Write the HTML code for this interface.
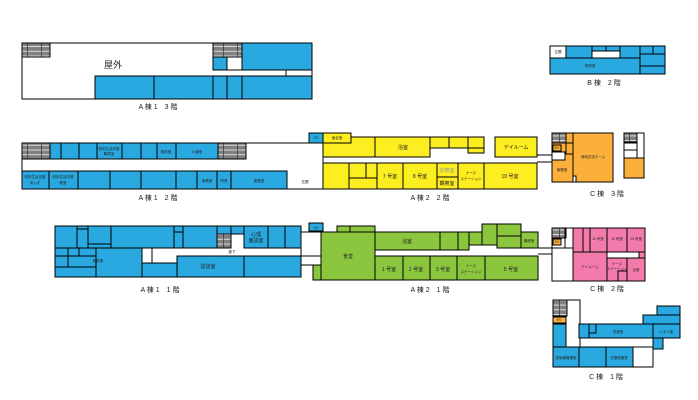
<!DOCTYPE html>
<html><head><meta charset="utf-8"><style>
html,body{margin:0;padding:0;background:#fff;}
svg{display:block}
text{font-family:"Liberation Sans","Noto Sans CJK JP",sans-serif;fill:#222;text-anchor:middle}
.b{fill:#29a9e0;stroke:#000;stroke-width:1}
.y{fill:#fcee21;stroke:#000;stroke-width:1}
.g{fill:#8cc63f;stroke:#000;stroke-width:1}
.o{fill:#fbb03b;stroke:#000;stroke-width:1}
.p{fill:#f37bac;stroke:#000;stroke-width:1}
.w{fill:#fff;stroke:#000;stroke-width:1}
.s{fill:url(#st);stroke:#000;stroke-width:1}
.l{stroke:#000;stroke-width:1;fill:none}
.t{font-size:3.5px}
.m{font-size:5px}
.h{font-size:7px}
</style></head><body>
<svg width="698" height="400" viewBox="0 0 698 400" xmlns="http://www.w3.org/2000/svg">
<defs><pattern id="st" patternUnits="userSpaceOnUse" width="14" height="4.7" x="0" y="0">
<rect width="14" height="4.7" fill="#808080"/><rect y="3.9" width="14" height="0.8" fill="#eee"/><rect x="13.3" width="0.7" height="4.7" fill="#333"/></pattern></defs>

<!-- A1 3F -->
<rect class="w" x="22" y="43" width="290" height="56"/>
<rect class="s" x="22" y="43" width="28" height="14"/>
<text class="h" x="113" y="68" style="font-size:9px">屋外</text>
<rect class="b" x="95" y="76" width="59" height="23"/>
<rect class="b" x="154" y="76" width="59" height="23"/>
<rect class="b" x="213" y="76" width="14" height="23"/>
<rect class="b" x="227" y="76" width="15" height="23"/>
<rect class="b" x="242" y="76" width="70" height="23"/>
<rect class="s" x="213" y="43" width="29" height="14"/>
<rect class="b" x="213" y="57" width="14" height="13"/>
<rect class="b" x="242" y="43" width="70" height="27"/>
<line class="l" x1="213" y1="70" x2="312" y2="70"/>
<line class="l" x1="286" y1="70" x2="286" y2="76"/>
<text class="h" x="158" y="109">A 棟 1　3 階</text>

<!-- B 2F -->
<rect class="w" x="550" y="46" width="16" height="12"/>
<text class="t" x="558" y="53">玄関</text>
<rect class="b" x="566" y="46" width="26" height="12"/>
<rect class="b" x="592" y="46" width="14" height="5"/>
<rect class="b" x="606" y="46" width="14" height="5"/>
<rect class="w" x="592" y="51" width="28" height="7"/>
<rect class="b" x="620" y="46" width="20" height="12"/>
<rect class="b" x="640" y="46" width="13" height="8"/>
<rect class="b" x="653" y="46" width="12" height="8"/>
<rect class="b" x="550" y="58" width="90" height="16"/>
<text class="t" x="590" y="67">研修室</text>
<rect class="b" x="640" y="54" width="25" height="12"/>
<rect class="b" x="640" y="66" width="25" height="8"/>
<text class="h" x="604" y="85">B 棟　2 階</text>

<!-- A1 2F -->
<rect class="w" x="22" y="143" width="301" height="46"/>
<rect class="s" x="22" y="143" width="28" height="16"/>
<rect class="b" x="50" y="143" width="11" height="16"/>
<rect class="b" x="61" y="143" width="18" height="16"/>
<rect class="b" x="79" y="143" width="18" height="16"/>
<rect class="b" x="97" y="143" width="25" height="16"/>
<text class="t" x="109" y="150">知的生活学習</text><text class="t" x="109" y="155">職員室</text>
<rect class="b" x="122" y="143" width="19" height="16"/>
<rect class="b" x="141" y="143" width="16" height="16"/>
<rect class="b" x="157" y="143" width="19" height="16"/>
<text class="t" x="166" y="153">相談室</text>
<rect class="b" x="176" y="143" width="42" height="16"/>
<text class="t" x="197" y="153">X 線室</text>
<rect class="s" x="218" y="143" width="28" height="16"/>
<rect class="b" x="22" y="171" width="27" height="18"/>
<text class="t" x="35" y="178">知的生活支援</text><text class="t" x="35" y="184">あんず</text>
<rect class="b" x="49" y="171" width="29" height="18"/>
<text class="t" x="63" y="178">知的生活学習</text><text class="t" x="63" y="184">教室</text>
<rect class="b" x="78" y="171" width="32" height="18"/>
<rect class="b" x="110" y="171" width="31" height="18"/>
<rect class="b" x="141" y="171" width="35" height="18"/>
<rect class="b" x="176" y="171" width="21" height="18"/>
<rect class="b" x="197" y="171" width="20" height="18"/>
<text class="t" x="207" y="182">事務室</text>
<rect class="b" x="217" y="171" width="14" height="18"/>
<text class="t" x="224" y="182">院長</text>
<rect class="b" x="231" y="171" width="56" height="18"/>
<text class="t" x="259" y="182">医務室</text>
<text class="t" x="305" y="183">玄関</text>
<rect class="b" x="309" y="133" width="14" height="10"/>
<text class="t" x="316" y="139">EV</text>
<text class="h" x="158" y="200">A 棟 1　2 階</text>

<!-- A2 2F -->
<rect class="y" x="323" y="133" width="28" height="10"/>
<text class="t" x="337" y="139">面会室</text>
<rect class="y" x="323" y="137" width="52" height="20"/>
<rect class="y" x="323" y="133" width="28" height="10"/>
<text class="t" x="337" y="139">面会室</text>
<rect class="y" x="375" y="137" width="55" height="20"/>
<text class="m" x="403" y="149">浴室</text>
<rect class="y" x="430" y="137" width="19" height="11"/>
<rect class="y" x="449" y="137" width="19" height="11"/>
<rect class="y" x="468" y="137" width="16" height="11"/>
<rect class="y" x="468" y="148" width="16" height="5"/>
<rect class="y" x="495" y="137" width="42" height="20"/>
<text class="m" x="516" y="149">デイルーム</text>
<rect class="y" x="323" y="163" width="26" height="26"/>
<rect class="y" x="349" y="163" width="17" height="15"/>
<rect class="y" x="366" y="163" width="11" height="15"/>
<rect class="y" x="349" y="178" width="28" height="11"/>
<rect class="y" x="377" y="163" width="26" height="26"/>
<text class="m" x="390" y="178">7 号室</text>
<rect class="y" x="403" y="163" width="34" height="26"/>
<text class="m" x="420" y="178">8 号室</text>
<rect class="y" x="437" y="163" width="21" height="14"/>
<text class="m" x="447" y="172" style="fill:#999">診察室</text>
<rect class="y" x="437" y="177" width="21" height="12"/>
<text class="m" x="447" y="185">観察室</text>
<rect class="y" x="458" y="163" width="26" height="26"/>
<text class="t" x="471" y="174">ナース</text><text class="t" x="471" y="180">ステーション</text>
<rect class="y" x="484" y="163" width="53" height="26"/>
<text class="m" x="510" y="178">10 号室</text>
<line class="l" x1="537" y1="155" x2="553" y2="155"/>
<line class="l" x1="537" y1="162" x2="553" y2="162"/>
<text class="h" x="430" y="200">A 棟 2　2 階</text>

<!-- C 3F -->
<rect class="o" x="552" y="133" width="21" height="49"/>
<rect class="s" x="552" y="133" width="14" height="10"/>
<rect class="o" x="566" y="133" width="7" height="10"/>
<rect class="w" x="552" y="152" width="13" height="8"/>
<rect class="o" x="566" y="143" width="7" height="11"/>
<rect class="o" x="553" y="145" width="8" height="6"/>
<text class="t" x="557" y="149">EV</text>
<text class="t" x="562" y="171">事務室</text>
<rect class="o" x="573" y="133" width="40" height="49"/>
<text class="t" x="593" y="158">地域交流ホーム</text>
<rect class="w" x="573" y="176" width="3" height="6"/>
<rect class="w" x="624" y="133" width="20" height="45"/>
<rect class="s" x="624" y="133" width="13" height="9"/>
<line class="l" x1="624" y1="143" x2="637" y2="143"/>
<line class="l" x1="624" y1="150" x2="637" y2="150"/>
<line class="l" x1="637" y1="133" x2="637" y2="158"/>
<rect class="o" x="624" y="158" width="20" height="20"/>
<text class="h" x="607" y="196">C 棟　3 階</text>

<!-- A1 1F -->
<rect class="w" x="55" y="226" width="246" height="51"/>
<rect class="b" x="55" y="226" width="22" height="22"/>
<rect class="b" x="77" y="226" width="11" height="3"/>
<rect class="b" x="77" y="229" width="11" height="19"/>
<rect class="b" x="88" y="226" width="23" height="18"/>
<rect class="b" x="88" y="244" width="23" height="4"/>
<rect class="b" x="111" y="226" width="63" height="22"/>
<rect class="b" x="174" y="226" width="9" height="6"/>
<rect class="b" x="174" y="232" width="9" height="16"/>
<rect class="b" x="183" y="226" width="34" height="22"/>
<rect class="b" x="217" y="226" width="14" height="8"/>
<rect class="s" x="217" y="234" width="14" height="14"/>
<rect class="b" x="231" y="226" width="13" height="8"/>
<rect class="b" x="244" y="226" width="24" height="22"/>
<text class="m" x="256" y="236">心理</text><text class="m" x="256" y="242">面談室</text>
<rect class="b" x="268" y="226" width="17" height="22"/>
<rect class="b" x="285" y="226" width="16" height="22"/>
<rect class="b" x="55" y="248" width="13" height="8"/>
<rect class="b" x="68" y="248" width="11" height="8"/>
<rect class="b" x="79" y="248" width="17" height="8"/>
<rect class="b" x="55" y="256" width="13" height="11"/>
<rect class="b" x="68" y="256" width="28" height="11"/>
<rect class="b" x="55" y="267" width="41" height="10"/>
<rect class="b" x="96" y="248" width="46" height="29"/>
<text class="t" x="98" y="262">面談室</text>
<rect class="w" x="142" y="248" width="10" height="15"/>
<rect class="b" x="142" y="263" width="35" height="14"/>
<rect class="b" x="177" y="256" width="67" height="21"/>
<text class="m" x="208" y="268">談話室</text>
<rect class="b" x="244" y="256" width="57" height="21"/>
<text class="t" x="232" y="253">廊下</text>
<text class="h" x="160" y="292">A 棟 1　1 階</text>

<!-- A2 1F -->
<rect class="b" x="309" y="223" width="14" height="8"/>
<text class="t" x="316" y="229">EV</text>
<line class="l" x1="301" y1="232" x2="321" y2="232"/>
<line class="l" x1="301" y1="256" x2="321" y2="256"/>
<line class="l" x1="301" y1="265" x2="313" y2="265"/>
<rect class="g" x="337" y="226" width="38" height="6"/>
<line class="l" x1="350" y1="226" x2="350" y2="232"/>
<rect class="g" x="313" y="265" width="10" height="15"/>
<rect class="g" x="321" y="232" width="54" height="48"/>
<text class="m" x="348" y="258">食堂</text>
<rect class="g" x="375" y="232" width="65" height="18"/>
<text class="m" x="407" y="243">浴室</text>
<rect class="g" x="440" y="232" width="18" height="18"/>
<rect class="g" x="458" y="232" width="11" height="18"/>
<rect class="g" x="469" y="232" width="13" height="13"/>
<rect class="g" x="482" y="224" width="15" height="21"/>
<rect class="g" x="497" y="224" width="24" height="12"/>
<rect class="g" x="497" y="236" width="24" height="12"/>
<rect class="g" x="521" y="232" width="17" height="16"/>
<text class="t" x="529" y="242">機械室</text>
<rect class="g" x="375" y="256" width="28" height="24"/>
<text class="m" x="389" y="271">1 号室</text>
<rect class="g" x="403" y="256" width="27" height="24"/>
<text class="m" x="416" y="271">2 号室</text>
<rect class="g" x="430" y="256" width="27" height="24"/>
<text class="m" x="443" y="271">3 号室</text>
<rect class="g" x="457" y="256" width="28" height="24"/>
<text class="t" x="471" y="267">ナース</text><text class="t" x="471" y="273">ステーション</text>
<rect class="g" x="485" y="256" width="53" height="24"/>
<text class="m" x="511" y="271">5 号室</text>
<text class="h" x="430" y="292">A 棟 2　1 階</text>

<!-- C 2F -->
<line class="l" x1="538" y1="248" x2="552" y2="248"/>
<line class="l" x1="538" y1="254" x2="552" y2="254"/>
<rect class="w" x="552" y="228" width="93" height="53"/>
<rect class="s" x="552" y="228" width="14" height="10"/>
<rect class="o" x="553" y="239" width="8" height="6"/>
<text class="t" x="557" y="243">EV</text>
<line class="l" x1="552" y1="248" x2="573" y2="248"/>
<line class="l" x1="565" y1="228" x2="565" y2="248"/>
<rect class="p" x="573" y="228" width="10" height="24"/>
<rect class="p" x="583" y="228" width="7" height="24"/>
<rect class="p" x="590" y="228" width="17" height="24"/>
<text class="t" x="598" y="240">11 号室</text>
<rect class="p" x="607" y="228" width="20" height="24"/>
<text class="t" x="617" y="240">12 号室</text>
<rect class="p" x="627" y="228" width="18" height="24"/>
<text class="t" x="636" y="240">13 号室</text>
<rect class="p" x="639" y="252" width="6" height="6"/>
<rect class="p" x="573" y="252" width="34" height="29"/>
<text class="t" x="590" y="268">デイルーム</text>
<rect class="p" x="607" y="258" width="20" height="23"/>
<text class="t" x="617" y="265">ナース</text><text class="t" x="617" y="270">ステーション</text>
<rect class="p" x="618" y="271" width="9" height="10"/>
<rect class="p" x="627" y="258" width="18" height="23"/>
<text class="t" x="636" y="271">浴室</text>
<text class="h" x="607" y="291">C 棟　2 階</text>

<!-- C 1F -->
<rect class="w" x="553" y="300" width="27" height="47"/>
<rect class="s" x="553" y="300" width="14" height="16"/>
<rect class="o" x="553" y="317" width="13" height="6"/>
<text class="t" x="559" y="321">EV</text>
<rect class="b" x="553" y="324" width="13" height="23"/>
<rect class="b" x="579" y="324" width="10" height="14"/>
<rect class="b" x="589" y="324" width="64" height="14"/>
<rect class="b" x="589" y="324" width="7" height="9"/>
<text class="t" x="618" y="333">洗濯室</text>
<rect class="b" x="643" y="315" width="37" height="9"/>
<rect class="b" x="657" y="306" width="23" height="9"/>
<rect class="b" x="653" y="324" width="27" height="14"/>
<text class="t" x="666" y="333">リネン室</text>
<rect class="b" x="653" y="338" width="10" height="11"/>
<rect class="w" x="553" y="347" width="100" height="20"/>
<rect class="b" x="553" y="347" width="26" height="20"/>
<text class="t" x="566" y="359">放射線管理室</text>
<rect class="b" x="579" y="347" width="27" height="20"/>
<rect class="b" x="606" y="347" width="27" height="20"/>
<text class="t" x="619" y="359">衣類保管室</text>
<line class="l" x1="640" y1="347" x2="653" y2="347"/>
<text class="h" x="606" y="379">C 棟　1 階</text>
</svg>
</body></html>
